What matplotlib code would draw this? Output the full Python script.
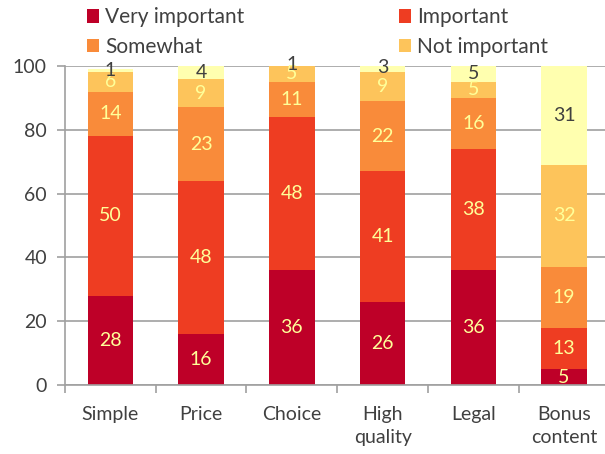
import matplotlib
matplotlib.use("Agg")
import matplotlib.pyplot as plt
import numpy as np

# --- data ---
categories = ["Simple", "Price", "Choice", "High\nquality", "Legal", "Bonus\ncontent"]
very_important = [28, 16, 36, 26, 36, 5]
important = [50, 48, 48, 41, 38, 13]
somewhat = [14, 23, 11, 22, 16, 19]
not_important = [6, 9, 5, 9, 5, 32]
other = [1, 4, 1, 3, 5, 31]

series_names = ["Very important", "Important", "Somewhat", "Not important", None]
series = [very_important, important, somewhat, not_important, other]
colors = ["#BE0028", "#EE3D22", "#F98B3A", "#FDC45B", "#FFFFAF"]
label_colors = ["#FFFF99", "#FFFF99", "#FFFF99", "#FFFF99", "#404040"]

plt.rcParams["font.family"] = ["Lato", "DejaVu Sans"]

fig = plt.figure(figsize=(6.05, 4.54), dpi=100)
ax = fig.add_axes([0.1074, 0.152, 0.90, 0.7026])

x = np.arange(len(categories))
bottom = np.zeros(len(categories))
handles = []
for name, vals, col, lcol in zip(series_names, series, colors, label_colors):
    vals = np.array(vals, dtype=float)
    bars = ax.bar(x, vals, 0.5, bottom=bottom, color=col, edgecolor="none", zorder=2)
    if name is not None:
        handles.append((bars, name))
    for xi, b, v in zip(x, bottom, vals):
        ax.text(xi, b + v / 2, f"{int(v)}", ha="center", va="center",
                fontsize=14, color=lcol, zorder=4, clip_on=False)
    bottom += vals

ax.set_xlim(-0.5, len(categories) - 0.5)
ax.set_ylim(0, 100)
ax.set_yticks(range(0, 101, 20))
ax.yaxis.grid(True, color="#A0A0A0", linewidth=1.2, zorder=0)
ax.set_axisbelow(True)

ax.set_xticks(x)
ax.set_xticklabels(categories, fontsize=14, color="#404040", linespacing=1.45)
ax.set_xticks(np.arange(-0.5, len(categories), 1), minor=True)
ax.tick_params(axis="x", which="major", length=0, pad=15)
ax.tick_params(axis="x", which="minor", length=6, color="#A0A0A0", width=1.2)
ax.tick_params(axis="y", labelsize=14, labelcolor="#404040", length=6,
               color="#A0A0A0", width=1.2, pad=7)

for s in ["top", "right"]:
    ax.spines[s].set_visible(False)
for s in ["left", "bottom"]:
    ax.spines[s].set_color("#A0A0A0")
    ax.spines[s].set_linewidth(1.2)

# legend fills column-wise, so order handles to read row-wise
order = [0, 2, 1, 3]
leg = fig.legend([handles[i][0] for i in order], [handles[i][1] for i in order], ncol=2,
                 loc="upper left", bbox_to_anchor=(0.112, 1.025), frameon=False,
                 fontsize=15, handlelength=0.6, handleheight=0.6, handletextpad=0.3,
                 columnspacing=7.4, labelspacing=0.45, labelcolor="#404040")

fig.savefig("out.png", dpi=100)
